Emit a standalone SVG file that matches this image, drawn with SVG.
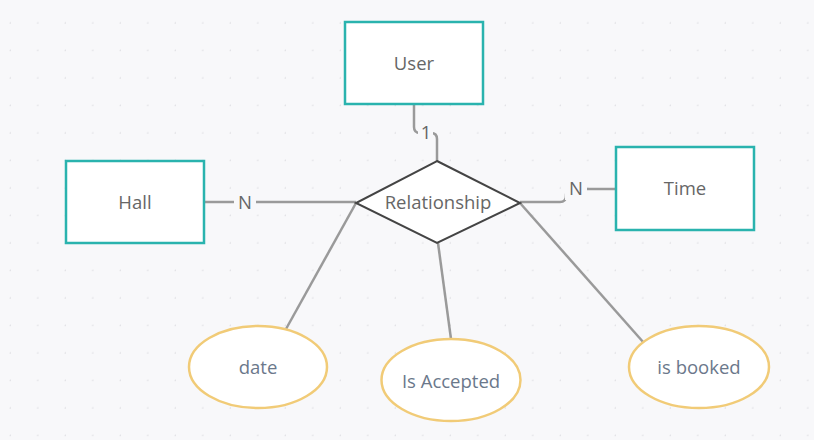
<svg xmlns="http://www.w3.org/2000/svg" width="814" height="440" viewBox="0 0 814 440">
<defs>
<pattern id="dots" x="-16.5" y="-3.8" width="27.5" height="27.5" patternUnits="userSpaceOnUse">
<circle cx="27.5" cy="27.5" r="1.6" fill="#e1e1e5"/>
</pattern>
<style>
.ent{fill:#ffffff;stroke:#2ab3ae;stroke-width:2.5}
.attr{fill:#ffffff;stroke:#f1cb77;stroke-width:2.5}
.rel{fill:#ffffff;stroke:#444444;stroke-width:2}
.t{font-family:"Open Sans","Liberation Sans",sans-serif;font-size:18.5px;fill:#666666;text-anchor:middle;dominant-baseline:central}
.at{font-family:"Open Sans","Liberation Sans",sans-serif;font-size:18.5px;fill:#6b788b;text-anchor:middle;dominant-baseline:central}
.c{fill:none;stroke:#9a9a9a;stroke-width:2.5}
.lb{fill:#f8f8fa}
</style>
</defs>
<rect x="0" y="0" width="814" height="440" fill="#f8f8fa"/>
<rect x="0" y="0" width="814" height="440" fill="url(#dots)"/>
<g id="connectors">
<path class="c" d="M414 104 V127 Q414 133 420 133 H431 Q437 133 437 139 V161"/>
<rect class="lb" x="418" y="122" width="15" height="22"/>
<text class="t" x="426" y="131.5">1</text>
<path class="c" d="M204 202 H356"/>
<rect class="lb" x="234" y="191" width="22" height="22"/>
<text class="t" x="245" y="201.5">N</text>
<path class="c" d="M520 202 H560 Q566 202 566 196 V195 Q566 189 572 189 H616"/>
<rect class="lb" x="565" y="178" width="22" height="22"/>
<text class="t" x="576" y="187.5">N</text>
<path class="c" d="M356 203 L286 329"/>
<path class="c" d="M438 243 L451 339"/>
<path class="c" d="M520 203 L644 343"/>
</g>
<g id="user">
<rect class="ent" x="345" y="22" width="138" height="82"/>
<text class="t" x="414" y="62.5">User</text>
</g>
<g id="hall">
<rect class="ent" x="66" y="161" width="138" height="82"/>
<text class="t" x="135" y="201.5">Hall</text>
</g>
<g id="time">
<rect class="ent" x="616" y="147" width="138" height="83"/>
<text class="t" x="685" y="187.5">Time</text>
</g>
<g id="relationship">
<polygon class="rel" points="437,161 520,203 437,243 356,203"/>
<text class="t" x="438" y="201.5">Relationship</text>
</g>
<g id="date">
<ellipse class="attr" cx="258" cy="367" rx="69" ry="41"/>
<text class="at" x="258" y="366.5">date</text>
</g>
<g id="is-accepted">
<ellipse class="attr" cx="451" cy="380" rx="69.5" ry="41"/>
<text class="at" x="451" y="380.5">Is Accepted</text>
</g>
<g id="is-booked">
<ellipse class="attr" cx="699" cy="367" rx="70" ry="41"/>
<text class="at" x="699" y="366.5">is booked</text>
</g>
</svg>
